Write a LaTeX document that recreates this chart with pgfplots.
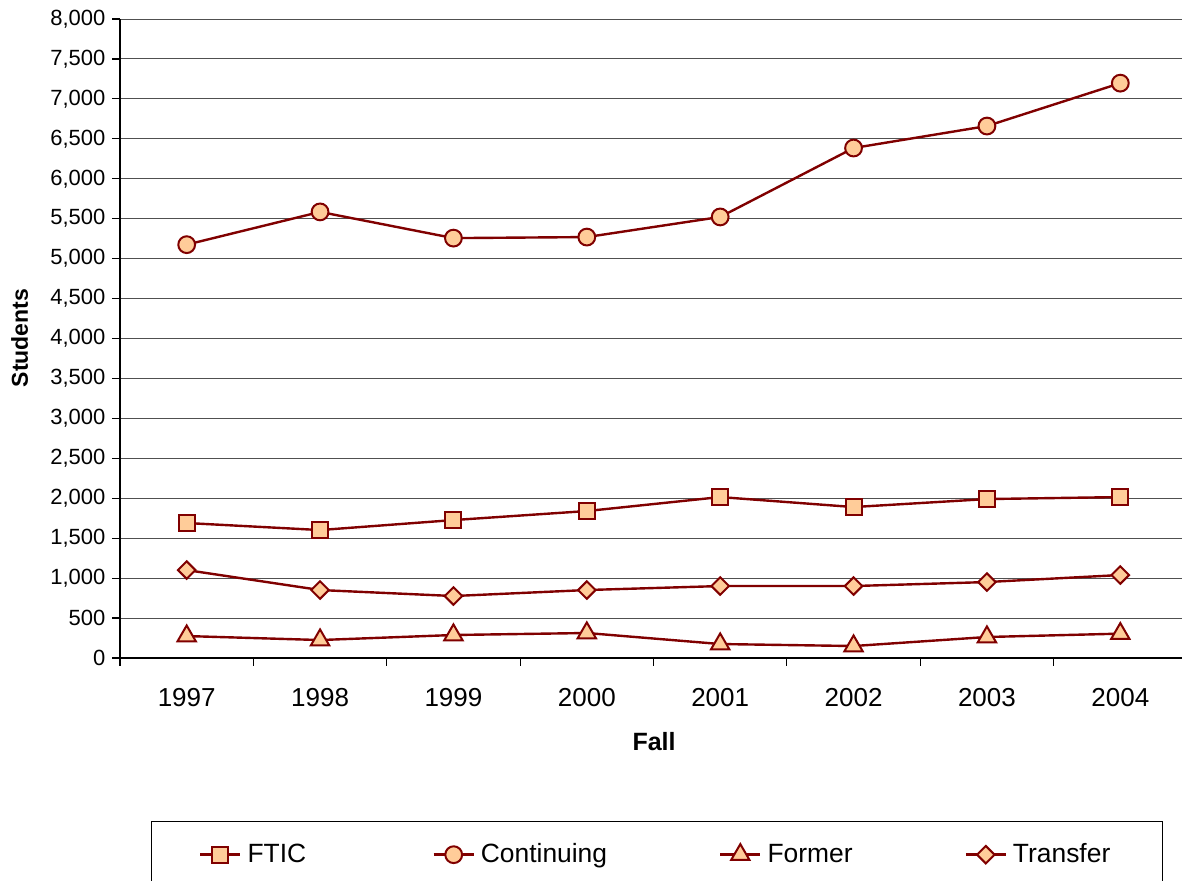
\documentclass[border=0pt]{standalone}
\usepackage{pgfplots}
\pgfplotsset{compat=1.18}
\usepackage{fontspec}
\setmainfont{Liberation Sans}
\definecolor{lred}{HTML}{800000}
\definecolor{lfill}{HTML}{FFCC99}
\definecolor{gridc}{HTML}{505050}
\begin{document}
\begin{tikzpicture}
\useasboundingbox (-60pt,-111pt) rectangle (531pt,329pt);
\begin{axis}[
  scale only axis,
  width=533.5pt, height=319.5pt,
  at={(0,0)}, anchor=south west,
  xmin=-0.5, xmax=7.5,
  ymin=0, ymax=8000,
  axis x line*=bottom, axis y line*=left,
  axis line style={black, line width=0.6pt, -},
  ytick distance=500,
  ymajorgrids,
  grid style={gridc, line width=0.5pt},
  tick align=outside,
  major tick length=3.8pt,
  tick style={black, line width=0.6pt},
  xtick={-0.5,0.5,...,7.5},
  xticklabels={},
  extra x ticks={0,1,2,3,4,5,6,7},
  extra x tick labels={1997,1998,1999,2000,2001,2002,2003,2004},
  extra x tick style={major tick length=0pt, grid=none,
    tick label style={font=\fontsize{13}{15}\selectfont, yshift=-11.5pt}},
  /pgf/number format/assume math mode=true,
  yticklabel style={font=\fontsize{11}{13}\selectfont},
  scaled y ticks=false,
  yticklabel={\pgfmathprintnumber[fixed,1000 sep={,}]{\tick}},
  xlabel={\textbf{Fall}},
  xlabel style={font=\fontsize{12.5}{15}\selectfont, at={(axis description cs:0.5005,-0.1315)}, anchor=center},
  ylabel={\textbf{Students}},
  ylabel style={font=\fontsize{11.5}{14}\selectfont, at={(axis description cs:-0.094,0.5008)}, anchor=center, rotate=0},
  legend columns=4,
  legend style={at={(axis description cs:0.503,-0.2551)}, anchor=north,
    draw=black, line width=0.6pt, inner xsep=24pt, inner ysep=9pt,
    font=\fontsize{13.2}{15}\selectfont,
    /tikz/every odd column/.append style={column sep=1pt},
    /tikz/every even column/.append style={column sep=54pt}},
  legend image code/.code={\draw[mark repeat=2,mark phase=2,#1] plot coordinates {(0pt,0pt)(10pt,0pt)(20pt,0pt)};},
  clip=false,
]
\addplot[lred, line width=1.2pt, mark=square*, mark size=4pt, mark options={fill=lfill, draw=lred, line width=1pt, solid}] coordinates {(0,1690)(1,1602)(2,1727)(3,1840)(4,2015)(5,1890)(6,1990)(7,2015)};
\addlegendentry{\makebox[36.5pt][l]{FTIC}}
\addplot[lred, line width=1.2pt, mark=*, mark size=4.2pt, mark options={fill=lfill, draw=lred, line width=1pt, solid}] coordinates {(0,5175)(1,5585)(2,5257)(3,5270)(4,5522)(5,6385)(6,6660)(7,7197)};
\addlegendentry{Continuing}
\addplot[lred, line width=1.2pt, mark=triangle*, mark size=5.3pt, mark options={fill=lfill, draw=lred, line width=1pt, solid}] coordinates {(0,275)(1,225)(2,288)(3,313)(4,175)(5,150)(6,263)(7,305)};
\addlegendentry{Former}
\addplot[lred, line width=1.2pt, mark=square*, mark size=3.1pt, mark options={fill=lfill, draw=lred, line width=1pt, solid, rotate=45}] coordinates {(0,1101)(1,851)(2,776)(3,851)(4,901)(5,901)(6,951)(7,1039)};
\addlegendentry{Transfer}
\end{axis}
\end{tikzpicture}
\end{document}
